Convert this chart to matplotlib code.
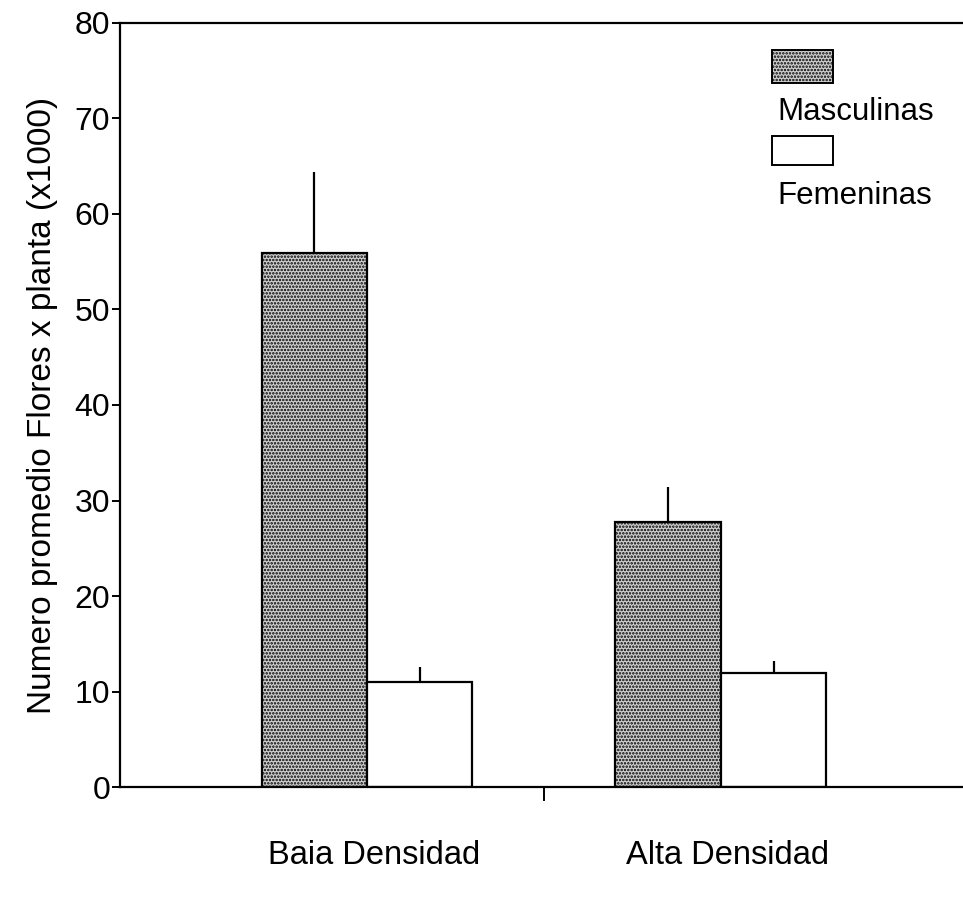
import matplotlib
matplotlib.use("Agg")
import matplotlib.pyplot as plt
from matplotlib.patches import Rectangle
import matplotlib.transforms as mtransforms

plt.rcParams['font.family'] = ['Liberation Sans', 'DejaVu Sans']
plt.rcParams['hatch.linewidth'] = 1.2

# data (x1000 flowers per plant)
grupos = ["Baia Densidad", "Alta Densidad"]
masculinas = [55.9, 27.8]
masculinas_err = [8.5, 3.6]
femeninas = [11.0, 11.9]
femeninas_err = [1.6, 1.3]
yticks = [0, 10, 20, 30, 40, 50, 60, 70, 80]

fig = plt.figure(figsize=(9.63, 9.01), dpi=100)
ax = fig.add_axes([0.1246, 0.1265, 0.8754, 0.848])

w = 0.298
pos = [0, 1]
xm = [p - w / 2 for p in pos]
xf = [p + w / 2 for p in pos]

ax.bar(xm, masculinas, width=w, facecolor='#cfcfcf', edgecolor='black',
       hatch='.....', linewidth=1.6, zorder=2)
ax.bar(xf, femeninas, width=w, facecolor='white', edgecolor='black',
       linewidth=1.6, zorder=2)
ax.errorbar(xm, masculinas, yerr=[[0, 0], masculinas_err], fmt='none',
            ecolor='black', elinewidth=1.6, capsize=0, zorder=3)
ax.errorbar(xf, femeninas, yerr=[[0, 0], femeninas_err], fmt='none',
            ecolor='black', elinewidth=1.6, capsize=0, zorder=3)

ax.set_xlim(-0.698, 1.684)
ax.set_ylim(0, 80)
ax.set_yticks(yticks)
ax.set_xticks([0.5])
ax.set_xticklabels([''])
ax.tick_params(axis='y', direction='out', length=6, width=1.4, labelsize=23, pad=1)
ax.tick_params(axis='x', direction='out', length=10, width=1.4)
ax.spines['right'].set_visible(False)
for s in ['left', 'top', 'bottom']:
    ax.spines[s].set_linewidth(1.6)

ax.set_ylabel("Numero promedio Flores x planta (x1000)", fontsize=24, labelpad=12)

# group labels well below the axis
trans = mtransforms.blended_transform_factory(ax.transData, ax.transAxes)
for p, g in zip(pos, grupos):
    ax.text(p + 0.02, -0.09, g, transform=trans, ha='center', va='center', fontsize=23.5)

# legend: swatch above each label
ax.add_patch(Rectangle((0.773, 0.9215), 0.0724, 0.043, transform=ax.transAxes,
                       facecolor='#cfcfcf', edgecolor='black', hatch='.....',
                       linewidth=1.4, clip_on=False))
ax.text(0.7795, 0.8835, "Masculinas", transform=ax.transAxes, fontsize=22.5, va='center')
ax.add_patch(Rectangle((0.773, 0.814), 0.0724, 0.038, transform=ax.transAxes,
                       facecolor='white', edgecolor='black', linewidth=1.4, clip_on=False))
ax.text(0.7795, 0.7735, "Femeninas", transform=ax.transAxes, fontsize=22.5, va='center')

fig.savefig("out.png", dpi=100)
